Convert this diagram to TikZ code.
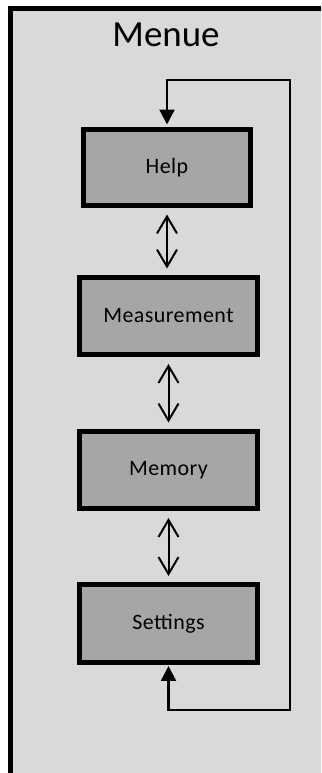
\documentclass[tikz,border=0pt]{standalone}
\usepackage{fontspec}
\setmainfont{Carlito}
\usetikzlibrary{arrows.meta}

\definecolor{framegray}{HTML}{D9D9D9}
\definecolor{boxgray}{HTML}{A6A6A6}

\begin{document}
\begin{tikzpicture}[x=0.02cm, y=-0.02cm,
        menubox/.style={draw=black, line width=0.1cm, fill=boxgray, inner sep=0pt,
            minimum width=3.56cm, minimum height=1.56cm,
            font=\fontsize{12.5}{14}\selectfont\addfontfeature{LetterSpace=2}},
        dblarrow/.style={line width=0.04cm, {Straight Barb[length=0.34cm, width=0.4cm]}-{Straight Barb[length=0.34cm, width=0.4cm]},
            shorten <=0.13cm, shorten >=0.12cm},
        looparrow/.style={line width=0.045cm, {Triangle[length=0.3cm, width=0.3cm]}-{Triangle[length=0.3cm, width=0.3cm]},
            shorten <=0.02cm, shorten >=0.05cm}]
        \clip (0,0) rectangle (321,773);
        % outer frame, only its left and top edges show
        \draw[line width=0.1cm, fill=framegray] (10.5,8.5) rectangle (345,800);

        \node[anchor=base, font=\fontsize{21}{25}\selectfont] (title) at (166,47) {Menue};

        \node[menubox, minimum width=3.34cm, minimum height=1.52cm] (help) at (167,167.5) {Help};
        \node[menubox] (meas) at (168.5,316) {Measurement};
        \node[menubox] (mem) at (168.5,470) {Memory};
        \node[menubox] (set) at (168.5,623.5) {Settings};

        \draw[dblarrow] (help.south) -- (help.south |- meas.north);
        \draw[dblarrow] (meas.south) -- (mem.north);
        \draw[dblarrow] (mem.south) -- (set.north);

        % way back from the last entry to the first one
        \coordinate (loopbr) at (290,710);
        \coordinate (looptr) at (290,80);
        \draw[looparrow] (set.south) |- (loopbr) -- (looptr) -| (help.north);
    \end{tikzpicture}
\end{document}
